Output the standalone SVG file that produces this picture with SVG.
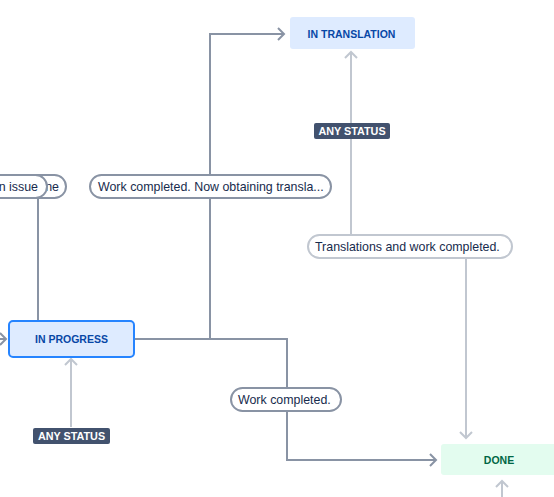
<svg xmlns="http://www.w3.org/2000/svg" width="554" height="497" viewBox="0 0 554 497">
<style>
.dk{fill:none;stroke:#8993a4;stroke-width:2}
.lt{fill:none;stroke:#c1c7d0;stroke-width:2}
.pill{fill:#fff;stroke:#8993a4;stroke-width:2}
.pill-lt{fill:#fff;stroke:#c1c7d0;stroke-width:2}
.pt{font-family:"Liberation Sans",Arial,sans-serif;font-size:12.4px;fill:#172b4d}
.nt{font-family:"Liberation Sans",Arial,sans-serif;font-size:10.5px;font-weight:bold;text-anchor:middle}
.any{fill:#42526e}
.at{font-family:"Liberation Sans",Arial,sans-serif;font-size:10.8px;font-weight:bold;fill:#fff;text-anchor:middle}
</style>
<rect width="554" height="497" fill="#fff"/>
<g id="connectors">
  <path class="dk" d="M134,339 H287 V460 H436"/>
  <path class="dk" d="M210,339 V34 H284"/>
  <path class="dk" d="M278,28 L284,34 L278,40"/>
  <path class="dk" d="M430,454 L436,460 L430,466"/>
  <path class="lt" d="M351,236 V52"/>
  <path class="lt" d="M345,58 L351,52 L357,58"/>
  <path class="lt" d="M466,258 V438"/>
  <path class="lt" d="M460,432 L466,438 L472,432"/>
  <path class="lt" d="M71,427 V359"/>
  <path class="lt" d="M65,365 L71,359 L77,365"/>
  <path class="dk" d="M38,198 V321"/>
  <path class="dk" d="M0,339 H6"/>
  <path class="dk" d="M0,333 L6,339 L0,345"/>
  <path class="lt" d="M502,497 V481"/>
  <path class="lt" d="M496,487 L502,481 L508,487"/>
</g>
<g id="in-translation">
  <rect x="290" y="17" width="125" height="32" rx="3" fill="#deebff"/>
  <text class="nt" x="351.5" y="37.5" fill="#0747a6">IN TRANSLATION</text>
</g>
<g id="in-progress">
  <rect x="9" y="321" width="125" height="36" rx="4" fill="#deebff" stroke="#2684ff" stroke-width="2"/>
  <text class="nt" x="71.5" y="342.5" fill="#0747a6">IN PROGRESS</text>
</g>
<g id="done">
  <rect x="441" y="444" width="120" height="31" rx="3" fill="#e3fcef"/>
  <text class="nt" x="499" y="463.5" fill="#006644">DONE</text>
</g>
<g id="any-status-1">
  <rect class="any" x="314" y="123" width="76" height="16" rx="2"/>
  <text class="at" x="352" y="135">ANY STATUS</text>
</g>
<g id="any-status-2">
  <rect class="any" x="33" y="428" width="77" height="16" rx="2"/>
  <text class="at" x="71.5" y="440">ANY STATUS</text>
</g>
<g id="label-work-obtaining">
  <rect class="pill" x="90" y="175" width="241" height="23" rx="11.5"/>
  <text class="pt" x="98" y="191">Work completed. Now obtaining transla...</text>
</g>
<g id="label-translations-work">
  <rect class="pill-lt" x="308" y="235" width="204" height="23" rx="11.5"/>
  <text class="pt" x="315" y="251">Translations and work completed.</text>
</g>
<g id="label-work-completed">
  <rect class="pill" x="231" y="388" width="110" height="23" rx="11.5"/>
  <text class="pt" x="238" y="404">Work completed.</text>
</g>
<g id="label-left-back">
  <rect class="pill" x="-60" y="175" width="126" height="23" rx="11.5"/>
  <text class="pt" x="59" y="191" text-anchor="end">ne</text>
</g>
<g id="label-left-front">
  <rect class="pill" x="-80" y="175" width="127" height="23" rx="11.5"/>
  <text class="pt" x="38" y="191" text-anchor="end">n issue</text>
</g>
</svg>
